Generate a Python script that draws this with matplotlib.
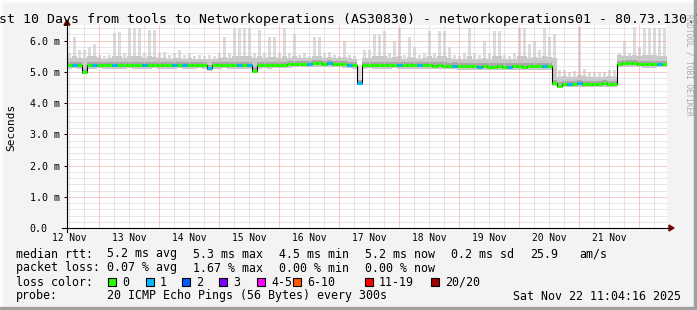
import matplotlib
matplotlib.use("Agg")
import matplotlib.pyplot as plt
import matplotlib.dates as mdates
from matplotlib.collections import LineCollection
from matplotlib.patches import Rectangle, Polygon
from matplotlib.lines import Line2D
import numpy as np
import pandas as pd

W, H = 697, 310
FONT = "DejaVu Sans Mono"

title = "Last 10 Days from tools to Networkoperations (AS30830) - networkoperations01 - 80.73.130.1"
end_time = pd.Timestamp("2025-11-22 11:04:16")
n_bins = 120  # 2 hour bins over the 10 days

# median rtt (ms) per 2h bin
median = [
    5.22, 5.23, 5.22, 5.00, 5.21, 5.23, 5.22, 5.22, 5.21, 5.23, 5.22, 5.21, 5.22, 5.23, 5.22, 5.22, 5.23, 5.22, 5.21, 5.22,
    5.22, 5.23, 5.22, 5.22, 5.21, 5.22, 5.22, 5.21, 5.12, 5.22, 5.23, 5.22, 5.22, 5.23, 5.22, 5.22, 5.21, 5.04, 5.22, 5.23,
    5.22, 5.22, 5.23, 5.23, 5.24, 5.25, 5.26, 5.26, 5.25, 5.27, 5.27, 5.26, 5.27, 5.26, 5.25, 5.24, 5.23, 5.22, 4.65, 5.22,
    5.23, 5.22, 5.22, 5.21, 5.22, 5.23, 5.22, 5.22, 5.21, 5.22, 5.22, 5.21, 5.21, 5.20, 5.21, 5.20, 5.19, 5.20, 5.19, 5.19,
    5.18, 5.18, 5.17, 5.18, 5.17, 5.17, 5.18, 5.17, 5.17, 5.18, 5.18, 5.17, 5.18, 5.18, 5.19, 5.18, 5.18, 4.64, 4.56, 4.60,
    4.62, 4.62, 4.63, 4.62, 4.62, 4.61, 4.62, 4.63, 4.62, 4.61, 5.26, 5.28, 5.28, 5.27, 5.26, 5.24, 5.24, 5.25, 5.25, 5.26,
]

# smoke: lowest ping, upper edge of dense smoke, highest ping (ms)
smoke_lo = [
    5.10, 5.12, 5.10, 4.95, 5.10, 5.10, 5.12, 5.10, 5.10, 5.10, 5.10, 5.10, 5.12, 5.10, 5.10, 5.10, 5.10, 5.12, 5.10, 5.10,
    5.10, 5.10, 5.12, 5.10, 5.10, 5.10, 5.12, 5.10, 5.02, 5.10, 5.10, 5.12, 5.10, 5.10, 5.10, 5.10, 5.10, 4.98, 5.10, 5.12,
    5.10, 5.12, 5.12, 5.12, 5.12, 5.14, 5.14, 5.15, 5.14, 5.15, 5.15, 5.14, 5.15, 5.14, 5.14, 5.12, 5.12, 5.10, 4.60, 5.10,
    5.12, 5.10, 5.10, 5.10, 5.10, 5.12, 5.10, 5.10, 5.10, 5.10, 5.10, 5.10, 5.10, 5.08, 5.10, 5.08, 5.08, 5.08, 5.06, 5.06,
    5.06, 5.06, 5.05, 5.06, 5.05, 5.05, 5.06, 5.05, 5.05, 5.06, 5.06, 5.05, 5.06, 5.06, 5.07, 5.06, 5.06, 4.55, 4.48, 4.50,
    4.50, 4.52, 4.52, 4.50, 4.52, 4.50, 4.50, 4.52, 4.50, 4.50, 5.15, 5.15, 5.16, 5.15, 5.14, 5.12, 5.12, 5.13, 5.14, 5.15,
]
smoke_hi = [
    5.45, 5.50, 5.45, 5.45, 5.50, 5.50, 5.45, 5.42, 5.45, 5.50, 5.50, 5.45, 5.50, 5.50, 5.50, 5.45, 5.50, 5.48, 5.45, 5.45,
    5.42, 5.45, 5.45, 5.42, 5.45, 5.42, 5.42, 5.40, 5.42, 5.42, 5.45, 5.48, 5.45, 5.50, 5.50, 5.50, 5.50, 5.45, 5.50, 5.45,
    5.48, 5.48, 5.45, 5.50, 5.45, 5.50, 5.45, 5.45, 5.45, 5.50, 5.50, 5.45, 5.48, 5.45, 5.45, 5.48, 5.45, 5.42, 4.75, 5.45,
    5.45, 5.50, 5.50, 5.50, 5.45, 5.48, 5.50, 5.42, 5.48, 5.45, 5.42, 5.45, 5.50, 5.45, 5.50, 5.50, 5.45, 5.42, 5.40, 5.42,
    5.50, 5.42, 5.40, 5.45, 5.42, 5.50, 5.50, 5.42, 5.40, 5.42, 5.50, 5.50, 5.45, 5.48, 5.45, 5.50, 5.48, 5.45, 4.85, 4.88,
    4.85, 4.85, 4.90, 4.88, 4.85, 4.82, 4.85, 4.85, 4.88, 4.85, 5.55, 5.50, 5.50, 5.55, 5.50, 5.55, 5.55, 5.55, 5.50, 5.50,
]
smoke_max = [
    5.60, 6.10, 5.70, 5.70, 5.80, 5.90, 5.55, 5.50, 5.55, 6.25, 6.27, 5.60, 6.40, 6.40, 6.40, 5.60, 6.35, 6.35, 5.60, 5.65,
    5.55, 5.60, 5.70, 5.55, 5.60, 5.50, 5.55, 5.50, 5.55, 5.50, 5.60, 6.10, 5.60, 6.40, 6.40, 6.40, 6.40, 5.60, 6.35, 5.60,
    6.10, 6.10, 5.60, 6.40, 5.60, 6.20, 5.55, 5.60, 5.50, 6.10, 6.10, 5.60, 5.65, 5.55, 5.50, 6.00, 5.55, 5.50, 5.20, 5.70,
    5.70, 6.20, 6.20, 6.30, 5.60, 6.00, 6.40, 5.55, 6.10, 5.80, 5.55, 5.60, 6.30, 5.60, 6.30, 6.30, 5.80, 5.55, 5.50, 5.60,
    6.40, 5.60, 5.55, 6.00, 5.60, 6.30, 6.30, 5.55, 5.50, 5.60, 6.40, 6.40, 5.90, 6.00, 5.70, 6.40, 6.10, 6.20, 5.05, 5.07,
    5.00, 5.02, 6.45, 5.10, 5.00, 4.98, 5.00, 4.98, 5.05, 5.05, 5.60, 6.00, 5.60, 6.45, 5.80, 6.40, 6.40, 6.40, 6.40, 6.40,
]
# lost pings (of 20) per bin
loss = [
    0, 1, 0, 0, 0, 1, 0, 0, 0, 1, 0, 0, 0, 0, 0, 1, 0, 0, 0, 0,
    0, 1, 0, 1, 0, 0, 0, 0, 1, 0, 0, 0, 0, 0, 1, 0, 1, 0, 0, 0,
    0, 0, 0, 0, 0, 0, 0, 0, 1, 0, 0, 0, 1, 0, 0, 0, 1, 0, 1, 0,
    0, 0, 0, 0, 0, 0, 1, 0, 0, 0, 1, 0, 0, 0, 0, 0, 0, 1, 0, 0,
    0, 0, 1, 0, 0, 0, 0, 0, 1, 0, 0, 0, 0, 0, 0, 1, 0, 0, 0, 0,
    1, 0, 1, 0, 0, 0, 0, 0, 0, 0, 0, 0, 0, 0, 0, 0, 0, 0, 1, 0,
]

loss_labels = ["0", "1", "2", "3", "4-5", "6-10", "11-19", "20/20"]
loss_colors = ["#26ff00", "#00b8ff", "#0059ff", "#7e00ff", "#ff00ff", "#ff5500", "#ff0000", "#a10000"]
loss_x = [108, 146, 182, 219, 257, 293, 365, 431]

y_ticks = [0, 1, 2, 3, 4, 5, 6]
y_labels = ["0.0", "1.0 m", "2.0 m", "3.0 m", "4.0 m", "5.0 m", "6.0 m"]

rtt_stats = [("5.2 ms avg", 107), ("5.3 ms max", 193), ("4.5 ms min", 279),
             ("5.2 ms now", 365), ("0.2 ms sd", 451), ("25.9", 530), ("am/s", 579)]
loss_stats = [("0.07 % avg", 107), ("1.67 % max", 193), ("0.00 % min", 279), ("0.00 % now", 365)]
probe = "20 ICMP Echo Pings (56 Bytes) every 300s"
stamp = "Sat Nov 22 11:04:16 2025"


def fx(x):
    return x / W


def fy(y):
    return 1 - y / H


def ext(v):
    v = list(v)
    return v + [v[-1]]


start_time = end_time - pd.Timedelta(days=10)
edges = pd.date_range(start_time, end_time, periods=n_bins + 1)
xe = mdates.date2num(edges)
xc = (xe[:-1] + xe[1:]) / 2
bw = xe[1] - xe[0]
med = np.array(median)

fig = plt.figure(figsize=(W / 100, H / 100), dpi=100, facecolor="#f3f3f3")
ax = fig.add_axes([fx(67), fy(228), 600 / W, 203 / H])
ax.set_facecolor("white")

# smoke: thin light spikes up to the slowest ping, dense bands round the median
hi = np.array(smoke_hi)
ax.bar(xc, np.array(smoke_max) - hi, bottom=hi, width=bw * 0.55, color="#dcdcdc", lw=0, zorder=1)
ax.fill_between(xe, ext(smoke_lo), ext(smoke_hi), step="post", color="#c8c8c8", lw=0, zorder=1.1)
ax.fill_between(xe, ext(med - 0.06), ext(med + 0.1), step="post", color="#a8a8a8", lw=0, zorder=1.2)
ax.fill_between(xe, ext(med - 0.06), ext(med), step="post", color="#8a8a8a", lw=0, zorder=1.3)

# grid
dot = (0, (1, 1))
for v in np.arange(0.2, 6.5, 0.2):
    if abs(v - round(v)) > 0.01:
        ax.axhline(v, color="#cfcfcf", lw=0.72, ls=dot, zorder=2)
for v in range(1, 7):
    ax.axhline(v, color="#f49a9a", lw=0.72, ls=dot, zorder=2.1)
for t in pd.date_range(start_time.ceil("6h"), end_time, freq="6h"):
    if t.hour == 0:
        ax.axvline(mdates.date2num(t), color="#f49a9a", lw=0.72, ls=dot, zorder=2.1)
    else:
        ax.axvline(mdates.date2num(t), color="#cfcfcf", lw=0.72, ls=dot, zorder=2)

# median line coloured by loss
ax.step(xe, ext(median), where="post", color="black", lw=0.8, zorder=3)
segs = [[(xe[i], median[i]), (xe[i + 1], median[i])] for i in range(n_bins)]
cols = [loss_colors[min(l, 7)] for l in loss]
ax.add_collection(LineCollection(segs, colors=cols, linewidths=2.2, zorder=4))

ax.set_xlim(xe[0], xe[-1])
ax.set_ylim(0, 6.5)
for s in ax.spines.values():
    s.set_visible(False)

ax.xaxis.set_major_locator(mdates.HourLocator(byhour=[12]))
ax.xaxis.set_major_formatter(mdates.DateFormatter("%d %b"))
ax.tick_params(axis="x", length=0, pad=3.5, labelsize=6.9)
ax.set_yticks(y_ticks)
ax.set_yticklabels(y_labels)
ax.tick_params(axis="y", length=2.2, width=0.7, pad=24.8, labelsize=7.2)
for lab in ax.get_yticklabels():
    lab.set_horizontalalignment("left")
for lab in ax.get_xticklabels() + ax.get_yticklabels():
    lab.set_fontfamily(FONT)

# axes with arrows
fig.add_artist(Line2D([fx(62), fx(670)], [fy(228), fy(228)], color="black", lw=0.8))
fig.add_artist(Line2D([fx(67), fx(67)], [fy(232), fy(24)], color="black", lw=0.8))
fig.add_artist(Polygon([(fx(669), fy(225)), (fx(669), fy(231)), (fx(674), fy(228))],
                       closed=True, color="#7f0000", transform=fig.transFigure))
fig.add_artist(Polygon([(fx(64), fy(25)), (fx(70), fy(25)), (fx(67), fy(20))],
                       closed=True, color="#7f0000", transform=fig.transFigure))

# texts
fig.text(fx(-17), fy(23.5), title, fontsize=9.5, family=FONT, va="baseline", ha="left")
fig.text(fx(11), fy(127), "Seconds", fontsize=8, family=FONT, rotation=90, va="center", ha="center")
fig.text(fx(689), fy(14), "RRDTOOL / TOBI OETIKER", fontsize=5.6, family=FONT, rotation=270,
         va="top", ha="center", color="#aaaaaa")

rows = [257.5, 271.5, 285.5, 299.5]
fs = 8.37
fig.text(fx(16), fy(rows[0]), "median rtt:", fontsize=fs, family=FONT, va="baseline")
for s, x in rtt_stats:
    fig.text(fx(x), fy(rows[0]), s, fontsize=fs, family=FONT, va="baseline")
fig.text(fx(16), fy(rows[1]), "packet loss:", fontsize=fs, family=FONT, va="baseline")
for s, x in loss_stats:
    fig.text(fx(x), fy(rows[1]), s, fontsize=fs, family=FONT, va="baseline")
fig.text(fx(16), fy(rows[2]), "loss color:", fontsize=fs, family=FONT, va="baseline")
for lab, c, x in zip(loss_labels, loss_colors, loss_x):
    fig.add_artist(Rectangle((fx(x), fy(286)), 8 / W, 8 / H, facecolor=c, edgecolor="black",
                             lw=0.8, transform=fig.transFigure))
    fig.text(fx(x + 14), fy(rows[2]), lab, fontsize=fs, family=FONT, va="baseline")
fig.text(fx(16), fy(rows[3]), "probe:", fontsize=fs, family=FONT, va="baseline")
fig.text(fx(107), fy(rows[3]), probe, fontsize=fs, family=FONT, va="baseline")
fig.text(fx(513), fy(rows[3]), stamp, fontsize=fs, family=FONT, va="baseline")

# 3d frame
fig.add_artist(Rectangle((0, 1 - 2 / H), 1, 2 / H, color="#fcfcfc", transform=fig.transFigure))
fig.add_artist(Rectangle((0, 0), 2 / W, 1, color="#fcfcfc", transform=fig.transFigure))
fig.add_artist(Rectangle((0, 0), 1, 3 / H, color="#a0a0a0", transform=fig.transFigure))
fig.add_artist(Rectangle((1 - 3 / W, 0), 3 / W, 1, color="#a0a0a0", transform=fig.transFigure))

fig.savefig("out.png", dpi=100, facecolor=fig.get_facecolor())
